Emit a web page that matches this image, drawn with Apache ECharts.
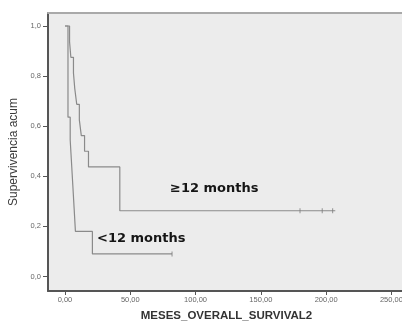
<!DOCTYPE html>
<html>
<head>
<meta charset="utf-8">
<script src="https://cdn.jsdelivr.net/npm/echarts@6/dist/echarts.min.js"></script>
<style>
  html, body { margin: 0; padding: 0; background: #ffffff; }
  #chart { width: 402px; height: 325px; }
</style>
</head>
<body>
<div id="chart"></div>
<script>
// Kaplan-Meier survival by group: [months, cumulative survival after the event]
const groupLong = [
  [0, 1.0], [3.5, 0.9375], [4.5, 0.875], [6.5, 0.8125], [7.5, 0.75],
  [9, 0.6875], [11, 0.625], [12.5, 0.5625], [15, 0.5], [18, 0.4375],
  [42, 0.2625], [207, 0.2625]
];
const groupShort = [
  [0, 1.0], [2.3, 0.636], [4, 0.545], [5, 0.455], [6, 0.364],
  [7, 0.273], [8, 0.18], [21, 0.09], [82, 0.09]
];
// censored observations
const censoredLong = [[180, 0.2625], [197, 0.2625], [205, 0.2625]];
const censoredShort = [[82, 0.09]];

const groupLabels = ['≥12 months', '<12 months'];
const xTicks = [0, 50, 100, 150, 200, 250];
const yTicks = [0, 0.2, 0.4, 0.6, 0.8, 1.0];

const lineColor = '#8a8a8a';
const axisColor = '#555555';

const chart = echarts.init(document.getElementById('chart'), null, { renderer: 'canvas' });

const censorSeries = (data) => ({
  type: 'scatter',
  data: data,
  symbol: 'rect',
  symbolSize: [1, 5],
  itemStyle: { color: '#7a7a7a' },
  silent: true,
  z: 4
});

const X_MIN = -13, X_MAX = 260.4;

chart.setOption({
  backgroundColor: '#ffffff',
  animation: false,
  grid: {
    left: 48, top: 13, right: -3, bottom: 34,
    outerBoundsMode: 'none',
    containLabel: false,
    show: true,
    backgroundColor: '#ececec',
    borderWidth: 0
  },
  xAxis: [
    {
      type: 'value',
      min: X_MIN, max: X_MAX,
      name: 'MESES_OVERALL_SURVIVAL2',
      nameLocation: 'middle',
      nameGap: 19,
      nameTextStyle: { fontFamily: 'Liberation Sans', fontWeight: 'bold', fontSize: 11.5, color: '#333333' },
      splitLine: { show: false },
      axisLine: { show: true, onZero: false, lineStyle: { color: axisColor, width: 2 } },
      axisTick: { show: true, customValues: xTicks, length: 4, lineStyle: { color: axisColor } },
      axisLabel: {
        customValues: xTicks,
        fontFamily: 'Liberation Sans', fontSize: 7.5, color: '#666666', margin: 5,
        formatter: v => v.toFixed(2).replace('.', ',')
      }
    },
    {
      // plain frame line along the top of the plot
      type: 'value', position: 'top',
      min: X_MIN, max: X_MAX,
      splitLine: { show: false },
      axisLine: { show: true, onZero: false, lineStyle: { color: '#a9a9a9', width: 2 } },
      axisTick: { show: false },
      axisLabel: { show: false }
    }
  ],
  yAxis: {
    type: 'value',
    min: -0.0579, max: 1.0519,
    name: 'Supervivencia acum',
    nameLocation: 'middle',
    nameGap: 27,
    nameRotate: 90,
    nameTextStyle: { fontFamily: 'Liberation Sans', fontSize: 12, color: '#3a3a3a' },
    splitLine: { show: false },
    axisLine: { show: true, onZero: false, lineStyle: { color: axisColor, width: 2 } },
    axisTick: { show: true, customValues: yTicks, length: 5, lineStyle: { color: axisColor } },
    axisLabel: {
      customValues: yTicks,
      fontFamily: 'Liberation Sans', fontSize: 7.5, color: '#666666', margin: 7,
      formatter: v => v.toFixed(1).replace('.', ',')
    }
  },
  series: [
    {
      type: 'line', step: 'end', data: groupLong, showSymbol: false,
      lineStyle: { color: lineColor, width: 1.2 }, silent: true, z: 3
    },
    {
      type: 'line', step: 'end', data: groupShort, showSymbol: false,
      lineStyle: { color: lineColor, width: 1.2 }, silent: true, z: 3
    },
    censorSeries(censoredLong),
    censorSeries(censoredShort)
  ],
  graphic: [
    {
      type: 'text', left: 170, top: 182, z: 10,
      style: { text: groupLabels[0], font: 'bold 13px "DejaVu Sans"', fill: '#151515' }
    },
    {
      type: 'text', left: 97, top: 232, z: 10,
      style: { text: groupLabels[1], font: 'bold 13px "DejaVu Sans"', fill: '#151515' }
    }
  ]
});
</script>
</body>
</html>
